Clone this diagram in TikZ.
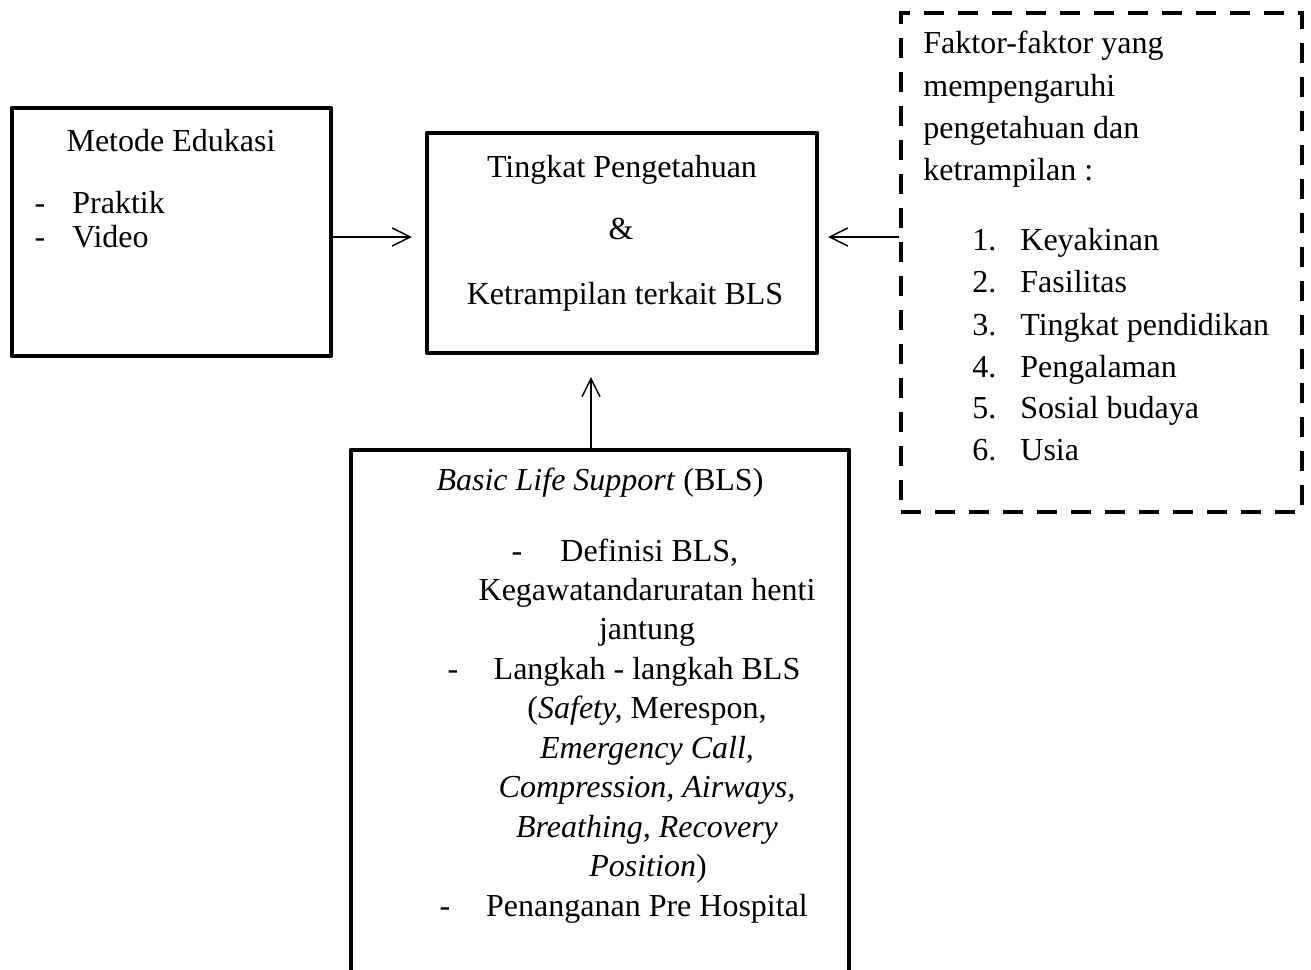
\documentclass[tikz,border=0pt]{standalone}
\usepackage{fontspec}
\setmainfont{Liberation Serif}
\usetikzlibrary{arrows.meta}
\begin{document}
\begin{tikzpicture}[x=0.5pt,y=-0.5pt,
  box/.style={draw,line width=2.2pt,line join=round,inner sep=0pt},
  dbox/.style={draw,line width=2.2pt,dash pattern=on 10pt off 7pt,inner sep=0pt},
  txt/.style={inner sep=0pt,font=\fontsize{16}{19}\selectfont},
  arr/.style={line width=0.7pt,-{Straight Barb[length=9pt,width=9pt,line width=0.7pt]}}]
\useasboundingbox (0,0) rectangle (1311,969);
\clip (0,0) rectangle (1311,969);
% boxes
\node[box,minimum width=159.5pt,minimum height=124pt] (metode) at (171.5,232) {};
\node[box,minimum width=195pt,minimum height=110pt] (tingkat) at (622,243) {};
\node[dbox,minimum width=200.5pt,minimum height=249.5pt] (faktor) at (1101.5,262.5) {};
\node[box,minimum width=249pt,minimum height=275pt] (bls) at (600,725) {};
% left box text
\node[txt,anchor=base] (t1) at (171,151) {Metode Edukasi};
\node[txt,anchor=base] (t2) at (40,213) {-};
\node[txt,anchor=base west] (t3) at (72,213) {Praktik};
\node[txt,anchor=base] (t4) at (40,247) {-};
\node[txt,anchor=base west] (t5) at (72,247) {Video};
% center box text
\node[txt,anchor=base] (c1) at (622,177) {Tingkat Pengetahuan};
\node[txt,anchor=base] (c2) at (621,239) {\&};
\node[txt,anchor=base] (c3) at (625,304) {Ketrampilan terkait BLS};
% right box text
\node[txt,anchor=base west] (f1) at (923,53) {Faktor-faktor yang};
\node[txt,anchor=base west] (f2) at (923,96) {mempengaruhi};
\node[txt,anchor=base west] (f3) at (923,138) {pengetahuan dan};
\node[txt,anchor=base west] (f4) at (923,180) {ketrampilan :};
\foreach \n/\t/\y in {1/Keyakinan/250,2/Fasilitas/292,3/Tingkat pendidikan/335,4/Pengalaman/377,5/Sosial budaya/418,6/Usia/460}{
  \node[txt,anchor=base west] (fn\n) at (972,\y) {\n.};
  \node[txt,anchor=base west] (ft\n) at (1020,\y) {\t};
}
% bottom box text
\node[txt,anchor=base] (b0) at (600,490) {\textit{Basic Life Support} (BLS)};
\node[txt,anchor=base] (d1) at (517,561) {-};
\node[txt,anchor=base west] (b1) at (560,561) {Definisi BLS,};
\node[txt,anchor=base] (b2) at (647,600) {Kegawatandaruratan henti};
\node[txt,anchor=base] (b3) at (647,639) {jantung};
\node[txt,anchor=base] (d2) at (453,679) {-};
\node[txt,anchor=base] (b4) at (647,679) {Langkah - langkah BLS};
\node[txt,anchor=base] (b5) at (647,718) {(\textit{Safety,} Merespon,};
\node[txt,anchor=base] (b6) at (647,758) {\textit{Emergency Call,}};
\node[txt,anchor=base] (b7) at (647,797) {\textit{Compression, Airways,}};
\node[txt,anchor=base] (b8) at (647,837) {\textit{Breathing, Recovery}};
\node[txt,anchor=base] (b9) at (648,876) {\textit{Position})};
\node[txt,anchor=base] (d3) at (445,916) {-};
\node[txt,anchor=base] (b10) at (647,916) {Penanganan Pre Hospital};
% arrows
\draw[arr,shorten >=6.5pt] (metode.east |- 0,237) -- (tingkat.west |- 0,237);
\draw[arr,shorten >=4.5pt] (faktor.west |- 0,237) -- (tingkat.east |- 0,237);
\draw[arr,shorten >=11pt] (bls.north -| 591,0) -- (tingkat.south -| 591,0);
\end{tikzpicture}
\end{document}
